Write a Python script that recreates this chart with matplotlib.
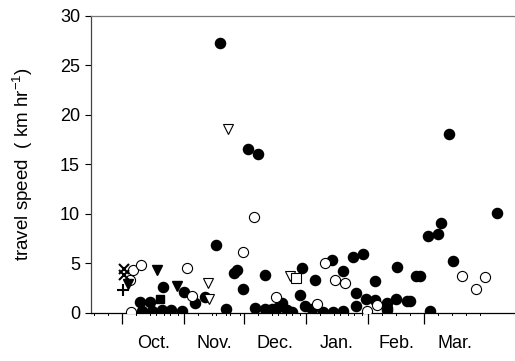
import numpy as np
import matplotlib
matplotlib.use('Agg')
import matplotlib.pyplot as plt

plt.rcParams['font.family'] = ['Liberation Sans', 'DejaVu Sans']
plt.rcParams['mathtext.fontset'] = 'custom'
plt.rcParams['mathtext.rm'] = 'Liberation Sans'

# days since 1 Oct, travel speed (km/hr)
filled_day = [9, 14, 10, 15, 20, 24.5, 30, 20.3, 31, 36.5, 41.5, 47, 48.7, 52, 55.7, 57.3,
              60.7, 63, 68, 66.5, 71.5, 71.5, 75, 77.5, 80, 82.5, 85, 89, 90, 91.5, 94.8,
              96.5, 100.3, 104.8, 105.3, 110.7, 110.7, 115.7, 116.8, 116.8, 120.7, 122,
              126.5, 126.5, 132.7, 132.7, 132.7, 137, 137.7, 142.7, 144, 147, 149, 153,
              154, 158, 159.3, 163.5, 165.7, 187.7]
filled_speed = [1.1, 1.1, 0.2, 0.2, 0.3, 0.3, 0.2, 2.6, 2.1, 1.0, 1.65, 6.9, 27.3, 0.45, 4.0, 4.3,
                2.4, 16.6, 16.1, 0.5, 3.8, 0.4, 0.4, 0.55, 1.0, 0.3, 0.15, 1.8, 4.5, 0.7, 0.37,
                3.3, 0.13, 5.35, 0.13, 4.25, 0.23, 5.7, 2.05, 0.75, 5.95, 1.4,
                3.2, 1.3, 1.0, 0.55, 0.3, 1.4, 4.6, 1.25, 1.25, 3.7, 3.7, 7.8,
                0.25, 7.95, 9.06, 18.05, 5.2, 10.07]
open_day = [4.3, 4, 5.3, 9.2, 32.3, 35, 60.7, 66, 77, 97.3, 101.5, 106.5, 111.5, 122.7, 127.7,
            170, 177, 181.7]
open_speed = [0.1, 3.3, 4.3, 4.8, 4.5, 1.7, 6.2, 9.7, 1.6, 0.9, 5.0, 3.3, 3.0, 0.2, 0.8,
              3.7, 2.45, 3.6]
open_tri_day = [43, 43.5, 53, 84]
open_tri_speed = [3.0, 1.4, 18.6, 3.7]
open_sq_day = [87]
open_sq_speed = [3.5]
filled_tri_day = [3, 17.3, 27.3]
filled_tri_speed = [2.9, 4.35, 2.7]
filled_sq_day = [19]
filled_sq_speed = [1.4]
x_day = [0.7, 0.7]
x_speed = [4.4, 3.8]
plus_day = [0.5]
plus_speed = [2.3]

month_names = ['Oct.', 'Nov.', 'Dec.', 'Jan.', 'Feb.', 'Mar.']
month_len = [31, 30, 31, 31, 28, 31]

fig = plt.figure(figsize=(5.15, 3.61), dpi=100)
ax = fig.add_axes([0.177, 0.133, 0.823, 0.823])

ms = 7.3
ax.plot(filled_day, filled_speed, 'o', color='black', ms=ms, mec='black', zorder=3)
ax.plot(open_day, open_speed, 'o', mfc='white', mec='black', mew=0.8, ms=ms, zorder=4)
ax.plot(open_tri_day, open_tri_speed, 'v', mfc='white', mec='black', mew=0.8, ms=ms, zorder=4)
ax.plot(open_sq_day, open_sq_speed, 's', mfc='white', mec='black', mew=0.8, ms=6.5, zorder=4)
ax.plot(filled_tri_day, filled_tri_speed, 'v', color='black', ms=ms, zorder=4)
ax.plot(filled_sq_day, filled_sq_speed, 's', color='black', ms=6, zorder=4)
ax.plot(x_day, x_speed, 'x', color='black', ms=7, mew=1.5, zorder=4)
ax.plot(plus_day, plus_speed, '+', color='black', ms=8, mew=1.5, zorder=4)

ax.set_xlim(-15.5, 196.5)
ax.set_ylim(0, 30)

starts = np.concatenate([[0], np.cumsum(month_len)])
mids = starts[:-1] + np.array(month_len) / 2
ax.set_xticks(starts[:-1])
ax.set_xticklabels([])
ax.set_xticks(mids, minor=True)
ax.set_xticklabels(month_names, minor=True, fontsize=13)
ax.tick_params(axis='x', which='major', direction='out', length=8, width=0.9)
ax.tick_params(axis='x', which='minor', direction='out', length=0, pad=16)
# small week ticks along the bottom
for s, n in zip(starts[:-1], month_len):
    for d in np.arange(s - 14, s + n, 7):
        if d != s:
            ax.plot([d, d], [0, -0.25], color='black', lw=0.7, clip_on=False)

ax.set_yticks(np.arange(0, 31, 5))
ax.tick_params(axis='y', direction='out', length=4, width=0.8, labelsize=13, pad=4)
ax.set_ylabel('travel speed  ( km hr$^{\\mathregular{-1}}$)', fontsize=13.5, labelpad=18)

ax.spines['right'].set_visible(False)
for sp in ['left', 'top', 'bottom']:
    ax.spines[sp].set_linewidth(0.9)
ax.spines['top'].set_color('#777777')
ax.spines['left'].set_color('#444444')

fig.savefig('out.png', dpi=100)
